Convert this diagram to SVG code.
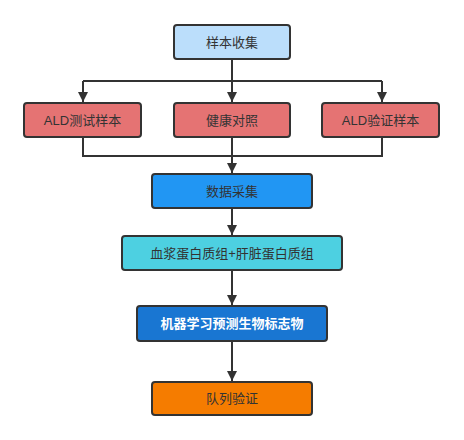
<svg xmlns="http://www.w3.org/2000/svg" width="464" height="440" viewBox="0 0 464 440">
<style>
.box{stroke:#333;stroke-width:2}
.t{font-family:"Liberation Sans","Noto Sans CJK SC",sans-serif;font-size:13px;fill:#333;text-anchor:middle;dominant-baseline:central}
.w{fill:#fff;font-weight:bold}
.c{fill:none;stroke:#333;stroke-width:2}
</style>
<defs>
<marker id="a" viewBox="0 0 10 10" refX="10" refY="5" markerWidth="5" markerHeight="5" markerUnits="strokeWidth" orient="auto">
<path d="M0,0L10,5L0,10z" fill="#333"/>
</marker>
</defs>
<rect width="464" height="440" fill="#fff"/>
<g id="connectors">
<path class="c" d="M232,59V81"/>
<path class="c" d="M83,81H382"/>
<path class="c" d="M83,81V102" marker-end="url(#a)"/>
<path class="c" d="M232,81V102" marker-end="url(#a)"/>
<path class="c" d="M382,81V102" marker-end="url(#a)"/>
<path class="c" d="M83,137V156H382V137"/>
<path class="c" d="M232,137V173" marker-end="url(#a)"/>
<path class="c" d="M232,208V235" marker-end="url(#a)"/>
<path class="c" d="M232,270V305" marker-end="url(#a)"/>
<path class="c" d="M232,341V381" marker-end="url(#a)"/>
</g>
<g id="n1"><rect class="box" x="174" y="25" width="116" height="34" rx="3" fill="#BBDEFB"/><text class="t" x="232" y="42">样本收集</text></g>
<g id="n2"><rect class="box" x="24" y="103" width="117" height="34" rx="3" fill="#E57373"/><text class="t" x="82.5" y="120">ALD测试样本</text></g>
<g id="n3"><rect class="box" x="174" y="103" width="116" height="34" rx="3" fill="#E57373"/><text class="t" x="232" y="120">健康对照</text></g>
<g id="n4"><rect class="box" x="322" y="103" width="117" height="34" rx="3" fill="#E57373"/><text class="t" x="380.5" y="120">ALD验证样本</text></g>
<g id="n5"><rect class="box" x="152" y="174" width="160" height="34" rx="3" fill="#2196F3"/><text class="t" x="232" y="191">数据采集</text></g>
<g id="n6"><rect class="box" x="122" y="236" width="220" height="34" rx="3" fill="#4DD0E1"/><text class="t" x="232" y="253">血浆蛋白质组+肝脏蛋白质组</text></g>
<g id="n7"><rect class="box" x="137" y="306" width="190" height="35" rx="3" fill="#1976D2"/><text class="t w" x="232" y="323.5">机器学习预测生物标志物</text></g>
<g id="n8"><rect class="box" x="152" y="382" width="160" height="33" rx="3" fill="#F57C00"/><text class="t" x="232" y="398.5">队列验证</text></g>
</svg>
